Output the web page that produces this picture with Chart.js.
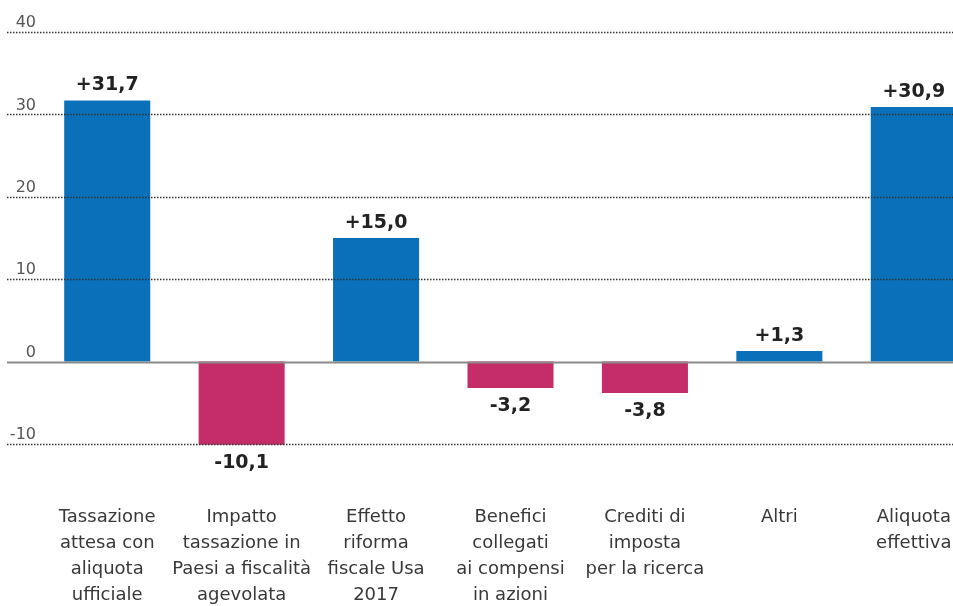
<!DOCTYPE html>
<html>
<head>
<meta charset="utf-8">
<script src="https://cdn.jsdelivr.net/npm/chart.js@4"></script>
<style>
  html, body { margin: 0; padding: 0; background: #fff; overflow: hidden; width: 953px; height: 606px; }
  #wrap { width: 953px; height: 606px; position: relative; overflow: hidden; }
  #inner { position: absolute; left: 0; top: 0; width: 990px; height: 606px; }
  canvas { display: block; }
</style>
</head>
<body>
<div id="wrap"><div id="inner"><canvas id="c" width="990" height="606"></canvas></div></div>
<script>
const categories = [
  ["Tassazione", "attesa con", "aliquota", "ufficiale"],
  ["Impatto", "tassazione in", "Paesi a fiscalità", "agevolata"],
  ["Effetto", "riforma", "fiscale Usa", "2017"],
  ["Benefici", "collegati", "ai compensi", "in azioni"],
  ["Crediti di", "imposta", "per la ricerca"],
  ["Altri"],
  ["Aliquota", "effettiva"]
];
const values = [31.7, -10.1, 15.0, -3.2, -3.8, 1.3, 30.9];
const yTicks = [-10, 0, 10, 20, 30, 40];

const BLUE = '#0a70ba';
const PINK = '#c42d67';

function fmt(v) {
  return (v > 0 ? '+' : '') + v.toFixed(1).replace('.', ',');
}

const overlay = {
  id: 'overlay',
  afterDatasetsDraw(chart) {
    const ctx = chart.ctx;
    const y = chart.scales.y;
    const W = chart.width;
    ctx.save();
    yTicks.forEach(v => {
      const py = Math.round(y.getPixelForValue(v)) + 0.5;
      ctx.beginPath();
      if (v === 0) {
        ctx.setLineDash([]);
        ctx.strokeStyle = '#8a8a8a';
        ctx.lineWidth = 2;
      } else {
        ctx.setLineDash([1.5, 1.5]);
        ctx.strokeStyle = '#333';
        ctx.lineWidth = 1.5;
      }
      ctx.moveTo(7, py);
      ctx.lineTo(W, py);
      ctx.stroke();
    });
    const meta = chart.getDatasetMeta(0);
    ctx.font = 'bold 19px "DejaVu Sans"';
    ctx.fillStyle = '#222';
    ctx.textAlign = 'center';
    meta.data.forEach((bar, i) => {
      const v = values[i];
      if (v >= 0) {
        ctx.textBaseline = 'alphabetic';
        ctx.fillText(fmt(v), bar.x, bar.y - 10);
      } else {
        ctx.textBaseline = 'top';
        ctx.fillText(fmt(v), bar.x, bar.y + 9);
      }
    });
    ctx.restore();
  }
};

new Chart(document.getElementById('c'), {
  type: 'bar',
  data: {
    labels: categories,
    datasets: [{
      data: values,
      backgroundColor: values.map(v => v >= 0 ? BLUE : PINK),
      borderWidth: 0,
      barPercentage: 0.64,
      categoryPercentage: 1,
      clip: false
    }]
  },
  options: {
    responsive: false,
    maintainAspectRatio: false,
    animation: false,
    devicePixelRatio: 1,
    layout: { padding: { left: 0, right: 9, top: 32, bottom: 0 } },
    plugins: { legend: { display: false }, tooltip: { enabled: false } },
    scales: {
      x: {
        offset: true,
        grid: { display: false, drawTicks: true, tickLength: 60 },
        border: { display: false },
        ticks: {
          padding: 0,
          maxRotation: 0,
          autoSkip: false,
          color: '#383838',
          font: { family: '"DejaVu Sans"', size: 18, lineHeight: 1.45 }
        },
        afterFit(scale) { scale.height = 162; scale.paddingLeft = 0; scale.paddingRight = 0; }
      },
      y: {
        min: -10,
        max: 40,
        afterBuildTicks(scale) { scale.ticks = yTicks.map(v => ({ value: v })); },
        grid: { display: false, drawTicks: false },
        border: { display: false },
        ticks: {
          crossAlign: 'near',
          padding: 4,
          labelOffset: -9,
          color: '#555',
          font: { family: '"DejaVu Sans"', size: 16 }
        },
        afterFit(scale) { scale.width = 40; }
      }
    }
  },
  plugins: [overlay]
});
</script>
</body>
</html>
